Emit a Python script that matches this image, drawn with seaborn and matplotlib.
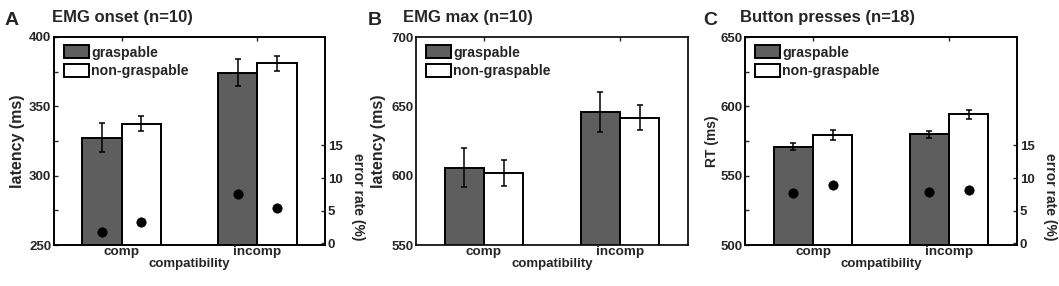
import numpy as np
import pandas as pd
import matplotlib
matplotlib.use('Agg')
import matplotlib.pyplot as plt
from matplotlib.ticker import MultipleLocator
import seaborn as sns

# Data
conditions = ['comp', 'incomp']
objects = ['graspable', 'non-graspable']

# A: EMG onset (ms), mean and error, plus error rates (%)
onset_mean = {'graspable': [327.5, 374.3], 'non-graspable': [337.5, 381.0]}
onset_err = {'graspable': [10.5, 9.9], 'non-graspable': [5.3, 5.5]}
onset_errrate = {'graspable': [1.8, 7.5], 'non-graspable': [3.2, 5.4]}

# B: EMG max (ms)
max_mean = {'graspable': [605.8, 645.9], 'non-graspable': [602.2, 641.8]}
max_err = {'graspable': [14.1, 14.2], 'non-graspable': [9.3, 9.1]}

# C: button press RT (ms) and error rates (%)
rt_mean = {'graspable': [570.8, 579.8], 'non-graspable': [579.0, 594.4]}
rt_err = {'graspable': [2.4, 2.5], 'non-graspable': [3.6, 3.3]}
rt_errrate = {'graspable': [7.7, 7.8], 'non-graspable': [8.9, 8.1]}


def to_df(mean, err, rate=None):
    rows = []
    for obj in objects:
        for i, c in enumerate(conditions):
            rows.append({'compatibility': c, 'object': obj,
                         'value': mean[obj][i], 'err': err[obj][i],
                         'rate': rate[obj][i] if rate else np.nan})
    return pd.DataFrame(rows)


sns.set_style('white')
plt.rcParams['font.family'] = ['Liberation Sans', 'DejaVu Sans']
plt.rcParams['font.weight'] = 'bold'

fig = plt.figure(figsize=(10.59, 2.86), dpi=100)
W, H = 1059, 286
bottom = 1 - 245 / H
height = (245 - 37) / H

panels = [
    dict(left=54, width=271, df=to_df(onset_mean, onset_err, onset_errrate),
         ylim=(250, 400), major=50, minor=25, ylabel='latency (ms)', ylsize=11.5, ylx=-0.107,
         letter='A', letter_x=5, title='EMG onset (n=10)', title_x=52, rate=True),
    dict(left=416, width=272, df=to_df(max_mean, max_err),
         ylim=(550, 700), major=50, minor=None, ylabel='latency (ms)', ylsize=11.5, ylx=-0.11,
         letter='B', letter_x=368, title='EMG max (n=10)', title_x=403, rate=False),
    dict(left=745, width=272, df=to_df(rt_mean, rt_err, rt_errrate),
         ylim=(500, 650), major=50, minor=25, ylabel='RT (ms)', ylsize=10, ylx=-0.096,
         letter='C', letter_x=703, title='Button presses (n=18)', title_x=740, rate=True),
]

palette = {'graspable': '#5e5e5e', 'non-graspable': 'white'}

for p in panels:
    ax = fig.add_axes([p['left'] / W, bottom, p['width'] / W, height])
    df = p['df']
    sns.barplot(data=df, x='compatibility', y='value', hue='object',
                order=conditions, hue_order=objects, palette=palette,
                errorbar=None, width=0.58, edgecolor='black', linewidth=1.4,
                saturation=1, ax=ax)
    # error bars at the bar centres
    bars = [b for b in ax.patches if b.get_height() > 0][:4]
    xs = [b.get_x() + b.get_width() / 2 for b in bars]
    vals = df['value'].tolist()
    errs = df['err'].tolist()
    ax.errorbar(xs, vals, yerr=errs, fmt='none', ecolor='black',
                elinewidth=1.1, capsize=2, capthick=1.1, zorder=5)

    ax.set_ylim(*p['ylim'])
    ax.set_xlim(-0.5, 1.5)
    ax.yaxis.set_major_locator(MultipleLocator(p['major']))
    if p['minor']:
        ax.yaxis.set_minor_locator(MultipleLocator(p['minor']))
        ax.tick_params(axis='y', which='both', direction='in', length=3, width=1, left=True)
    else:
        ax.tick_params(axis='y', length=0)
    ax.tick_params(axis='y', labelsize=9.5, pad=2)
    ax.tick_params(axis='x', direction='in', length=3, width=1, top=True,
                   bottom=False, labelsize=9.7, pad=1)
    for s in ax.spines.values():
        s.set_color('black')
        s.set_linewidth(1.2)

    ax.set_ylabel(p['ylabel'], fontsize=p['ylsize'], fontweight='bold')
    ax.yaxis.set_label_coords(p['ylx'], 0.5)
    ax.set_xlabel('compatibility', fontsize=9.5, fontweight='bold')
    ax.xaxis.set_label_coords(0.5, -0.062)

    handles, labels = ax.get_legend_handles_labels()
    ax.legend(handles, labels, loc='upper left', bbox_to_anchor=(0.037, 0.96),
              frameon=False, handlelength=1.75, handleheight=1.05,
              handletextpad=0.15, labelspacing=0.3, borderpad=0, borderaxespad=0,
              prop={'weight': 'bold', 'size': 10.2})

    if p['rate']:
        ax2 = ax.twinx()
        sns.scatterplot(x=xs, y=df['rate'].tolist(), color='black', s=45,
                        edgecolor='black', ax=ax2, zorder=6)
        ax2.set_ylim(-0.25, 31.6)
        ax2.set_yticks([0, 5, 10, 15])
        ax2.tick_params(axis='y', direction='in', length=3, width=1, right=True,
                        labelsize=9.5, pad=2)
        for s in ax2.spines.values():
            s.set_color('black')
            s.set_linewidth(1.2)
        ax2.set_ylabel('error rate (%)', fontsize=10, fontweight='bold',
                       rotation=270, va='center')
        ax2.yaxis.set_label_coords(1.122, 0.23)
        if ax2.get_legend():
            ax2.get_legend().remove()

    fig.text(p['letter_x'] / W, 1 - 25 / H, p['letter'], fontsize=14,
             fontweight='bold', ha='left', va='baseline')
    fig.text(p['title_x'] / W, 1 - 21.7 / H, p['title'], fontsize=12,
             fontweight='bold', ha='left', va='baseline')

fig.savefig('out.png', dpi=100)
